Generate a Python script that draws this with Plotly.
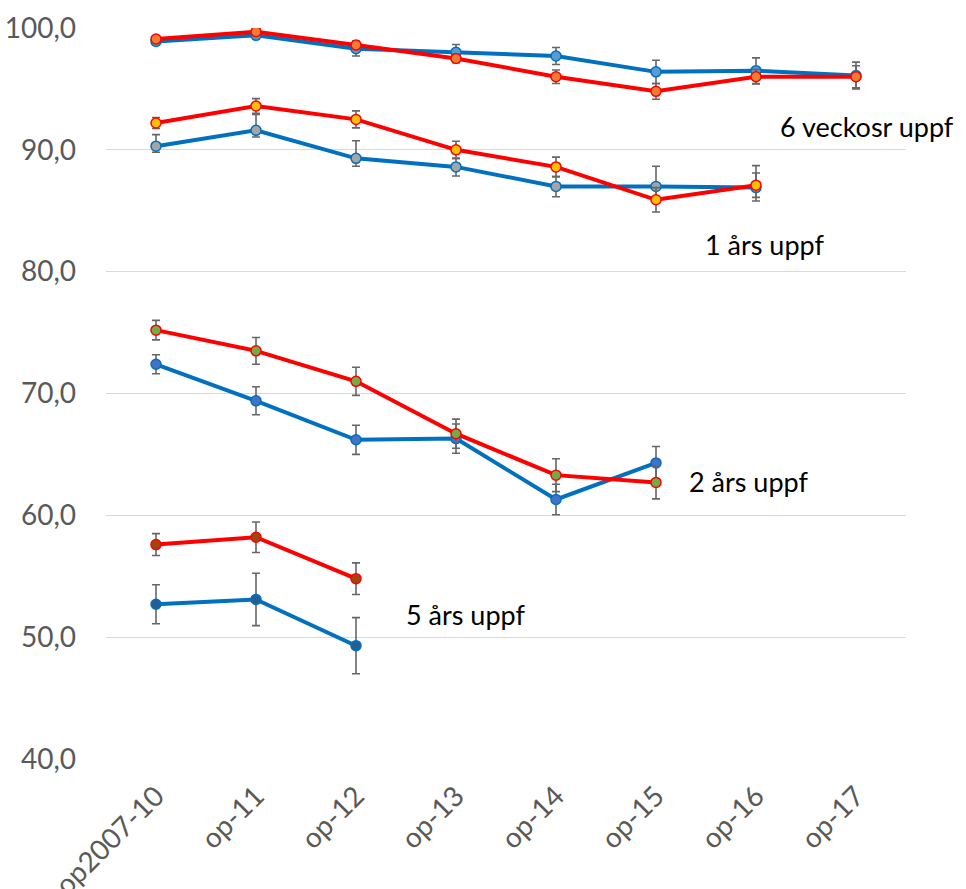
import plotly.graph_objects as go

# Follow-up periods (x categories)
categories = ["op2007-10", "op-11", "op-12", "op-13", "op-14", "op-15", "op-16", "op-17"]

# 6 weeks follow-up
w6_blue = [98.9, 99.4, 98.3, 98.0, 97.7, 96.4, 96.5, 96.1]
w6_blue_err = [0.3, 0.25, 0.6, 0.65, 0.7, 0.95, 1.05, 1.1]
w6_red = [99.1, 99.7, 98.6, 97.5, 96.0, 94.8, 96.0, 96.0]
w6_red_err = [0.25, 0.2, 0.3, 0.35, 0.55, 0.65, 0.6, 0.9]

# 1 year follow-up
y1_blue = [90.3, 91.6, 89.3, 88.6, 87.0, 87.0, 86.9]
y1_blue_plus = [0.95, 1.3, 1.45, 0.7, 0.8, 1.65, 1.8]
y1_blue_minus = [0.5, 0.55, 0.65, 0.75, 0.85, 0.9, 1.1]
y1_red = [92.2, 93.6, 92.5, 90.0, 88.6, 85.9, 87.1]
y1_red_err = [0.45, 0.6, 0.7, 0.7, 0.8, 1.0, 1.0]

# 2 years follow-up
y2_blue = [72.4, 69.4, 66.2, 66.3, 61.3, 64.3]
y2_blue_err = [0.78, 1.15, 1.2, 1.2, 1.25, 1.35]
y2_red = [75.2, 73.5, 71.0, 66.7, 63.3, 62.7]
y2_red_err = [0.8, 1.1, 1.15, 1.2, 1.35, 1.35]

# 5 years follow-up
y5_blue = [52.7, 53.1, 49.3]
y5_blue_err = [1.6, 2.15, 2.3]
y5_red = [57.6, 58.2, 54.8]
y5_red_err = [0.9, 1.25, 1.3]

y_ticks = [40, 50, 60, 70, 80, 90, 100]

BLUE = "#0070C0"
RED = "#FF0000"
ERR = "#666666"


def series(values, line_color, fill, plus, minus=None):
    x = list(range(len(values)))
    err = dict(type="data", array=plus, color=ERR, thickness=1.6, width=4)
    if minus is not None:
        err.update(symmetric=False, arrayminus=minus)
    return go.Scatter(
        x=x, y=values, mode="lines+markers",
        line=dict(color=line_color, width=4),
        marker=dict(size=10, color=fill, line=dict(color=line_color, width=1.5)),
        error_y=err, showlegend=False, hoverinfo="y",
    )


fig = go.Figure()
fig.add_trace(series(w6_blue, BLUE, "#5B9BD5", w6_blue_err))
fig.add_trace(series(w6_red, RED, "#ED7D31", w6_red_err))
fig.add_trace(series(y1_blue, BLUE, "#A5A5A5", y1_blue_plus, y1_blue_minus))
fig.add_trace(series(y1_red, RED, "#FFC000", y1_red_err))
fig.add_trace(series(y2_blue, BLUE, "#4472C4", y2_blue_err))
fig.add_trace(series(y2_red, RED, "#70AD47", y2_red_err))
fig.add_trace(series(y5_blue, BLUE, "#255E91", y5_blue_err))
fig.add_trace(series(y5_red, RED, "#9E480E", y5_red_err))

label_font = dict(family="Lato", size=27, color="#000000")
labels = [
    ("6 veckosr uppf", 6.22, 91.9),
    ("1 års uppf", 5.47, 82.2),
    ("2 års uppf", 5.31, 62.8),
    ("5 års uppf", 2.48, 51.9),
]
for text, lx, ly in labels:
    fig.add_annotation(x=lx, y=ly, xref="x", yref="y", text=text, showarrow=False,
                       xanchor="left", yanchor="middle", font=label_font)

fig.update_layout(
    width=966, height=889,
    margin=dict(l=106, r=60, t=28, b=130),
    paper_bgcolor="white", plot_bgcolor="white",
    separators=", ",
    font=dict(family="Lato", color="#595959"),
)
fig.update_xaxes(
    range=[-0.5, 7.5], tickvals=list(range(len(categories))), ticktext=categories,
    tickangle=-45, tickfont=dict(size=28, color="#595959"), ticklabelstandoff=14,
    showgrid=False, zeroline=False, showline=False, ticks="", automargin=False,
)
fig.update_yaxes(
    range=[40, 100], tickvals=y_ticks, tickformat=".1f",
    tickfont=dict(size=28, color="#595959"), ticklabelstandoff=29, automargin=False,
    showgrid=True, gridcolor="#d9d9d9", gridwidth=1, zeroline=False, showline=False, ticks="",
)

fig.write_html("out.html")
